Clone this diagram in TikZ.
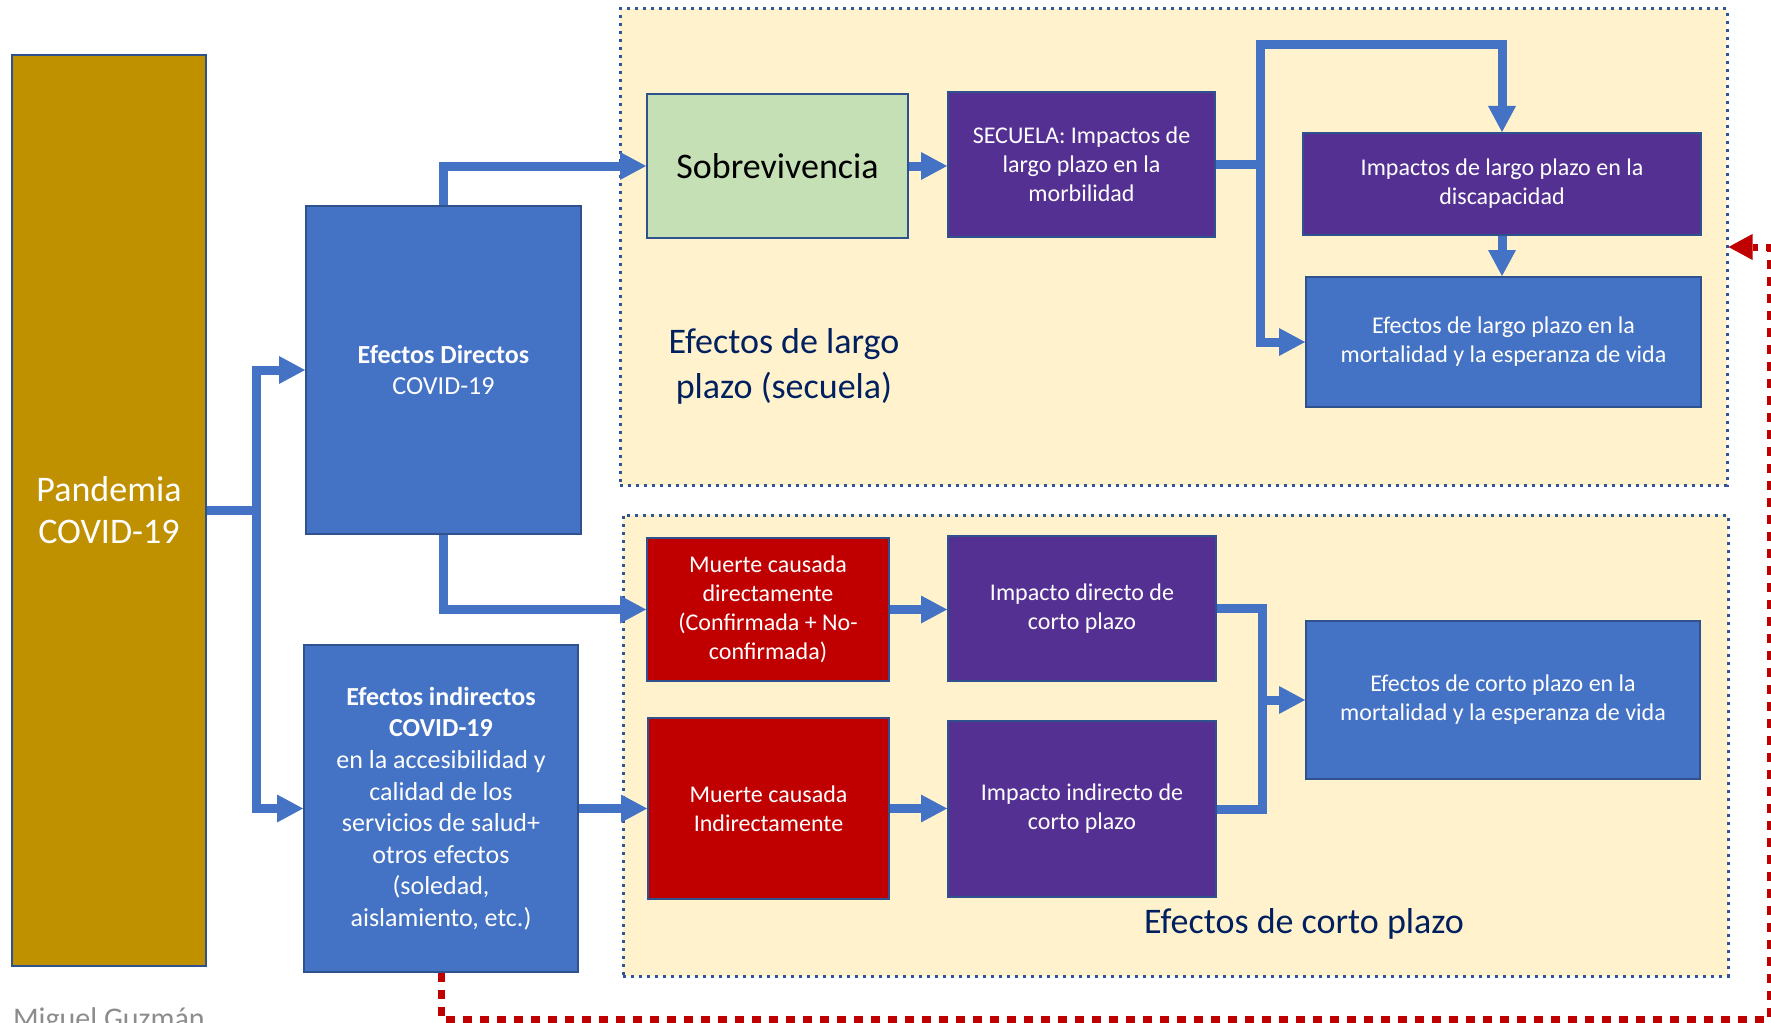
\documentclass[tikz,border=0pt]{standalone}
\usepackage{fontspec}
\setmainfont{Carlito}
\usetikzlibrary{arrows.meta}

\definecolor{boxblue}{RGB}{68,114,196}
\definecolor{edgeblue}{RGB}{47,82,143}
\definecolor{boxgold}{RGB}{191,144,0}
\definecolor{boxpurple}{RGB}{85,48,147}
\definecolor{boxred}{RGB}{192,0,0}
\definecolor{boxgreen}{RGB}{197,224,180}
\definecolor{cream}{RGB}{255,242,204}
\definecolor{navy}{RGB}{0,32,96}
\definecolor{regionedge}{RGB}{47,85,151}
\definecolor{authorgray}{RGB}{140,140,140}

\begin{document}
\begin{tikzpicture}[x=0.5pt,y=-0.5pt,
	box/.style={draw=edgeblue,line width=1pt,inner sep=2pt,align=center,text=white,font=\fontsize{12}{14.5}\selectfont},
	region/.style={draw=regionedge,fill=cream,line width=1.5pt,dash pattern=on 1.5pt off 2.5pt,inner sep=0pt},
	flow/.style={draw=boxblue,line width=4.5pt,-{Triangle[length=13pt,width=14pt,line width=0pt]}},
	link/.style={draw=boxblue,line width=4.5pt},
	back/.style={draw=boxred,line width=3.5pt,dash pattern=on 4.5pt off 4pt,-{Triangle[length=12pt,width=13pt,line width=0pt]}},
	label/.style={text=navy,align=center,font=\fontsize{18}{22.5}\selectfont}]
			\useasboundingbox (0,0) rectangle (1771,1022);
			% zonas
			\node[region,minimum width=553.5pt,minimum height=238pt] (lp) at (1173.5,247) {};
			\node[region,minimum width=552.5pt,minimum height=230.5pt] (cp) at (1175.5,745.5) {};
			\node[label] (lplbl) at (784,366) {Efectos de largo\\plazo (secuela)};
			\node[label,anchor=base] (cplbl) at (1304,933) {Efectos de corto plazo};
			% cajas
			\node[box,fill=boxgold,minimum width=97pt,minimum height=455.5pt,font=\fontsize{18}{21}\selectfont] (pand) at (109,510.5) {Pandemia\\COVID-19};
			\node[box,fill=boxblue,minimum width=137.5pt,minimum height=164pt,font=\fontsize{13}{15.8}\selectfont] (dir) at (443.5,370) {\textbf{Efectos Directos}\\COVID-19};
			\node[box,fill=boxblue,minimum width=137pt,minimum height=163.5pt,font=\fontsize{13}{15.8}\selectfont] (ind) at (441,808.5) {\textbf{Efectos indirectos}\\\textbf{COVID-19}\\en la accesibilidad y\\calidad de los\\servicios de salud+\\otros efectos\\(soledad,\\aislamiento, etc.)};
			\node[box,fill=boxgreen,text=black,minimum width=130.5pt,minimum height=72pt,font=\fontsize{18}{22}\selectfont] (sob) at (777.5,166) {Sobrevivencia};
			\node[box,fill=boxpurple,minimum width=133.5pt,minimum height=72.5pt] (sec) at (1081.5,164.5) {SECUELA: Impactos de\\largo plazo en la\\morbilidad};
			\node[box,fill=boxpurple,minimum width=199pt,minimum height=51pt] (disc) at (1502,184) {Impactos de largo plazo en la\\discapacidad};
			\node[box,fill=boxblue,minimum width=197.5pt,minimum height=65pt] (mlp) at (1503.5,342) {Efectos de largo plazo en la\\mortalidad y la esperanza de vida};
			\node[box,fill=boxred,minimum width=121pt,minimum height=71.5pt] (mdir) at (768,609.5) {Muerte causada\\directamente\\(Confirmada + No-\\confirmada)};
			\node[box,fill=boxpurple,minimum width=134pt,minimum height=72.5pt] (idir) at (1082,608.5) {Impacto directo de\\corto plazo};
			\node[box,fill=boxred,minimum width=120.5pt,minimum height=90.5pt] (mind) at (768.5,808.5) {Muerte causada\\Indirectamente};
			\node[box,fill=boxpurple,minimum width=134pt,minimum height=88pt] (iind) at (1082,809) {Impacto indirecto de\\corto plazo};
			\node[box,fill=boxblue,minimum width=197pt,minimum height=79pt] (mcp) at (1503,700) {Efectos de corto plazo en la\\mortalidad y la esperanza de vida};
			\node[text=authorgray,anchor=base west,font=\fontsize{15}{18}\selectfont] (autor) at (6,1028) {Miguel Guzmán};
			% flechas
			\coordinate (split) at (256,510.5);
			\draw[link] (pand.east) -- (split);
			\draw[flow] (split) |- (dir.west);
			\draw[flow] (split) |- (ind.west);
			\draw[flow] (dir.north) |- (sob.west);
			\draw[flow] (dir.south) |- (mdir.west);
			\draw[flow] (ind.east) -- (mind.west);
			\draw[flow] (sob.east) -- (sob.east -| sec.west);
			\draw[flow] (mdir.east) -- (mdir.east -| idir.west);
			\draw[flow] (mind.east) -- (mind.east -| iind.west);
			\coordinate (fork) at (1260,45);
			\draw[flow] (sec.east) -| (fork) -| (disc.north);
			\draw[flow] (sec.east) -| (fork |- mlp.west) -- (mlp.west);
			\draw[flow] (disc.south) -- (disc.south |- mlp.north);
			\coordinate (merge) at (1262,700);
			\draw[link] (idir.east) -| (merge);
			\draw[link] (iind.east) -| (merge);
			\draw[flow] (merge) -- (mcp.west);
			\coordinate (loop) at (1770,1019);
			\draw[back] (ind.south) |- (loop) |- (lp.east);
\end{tikzpicture}
\end{document}
